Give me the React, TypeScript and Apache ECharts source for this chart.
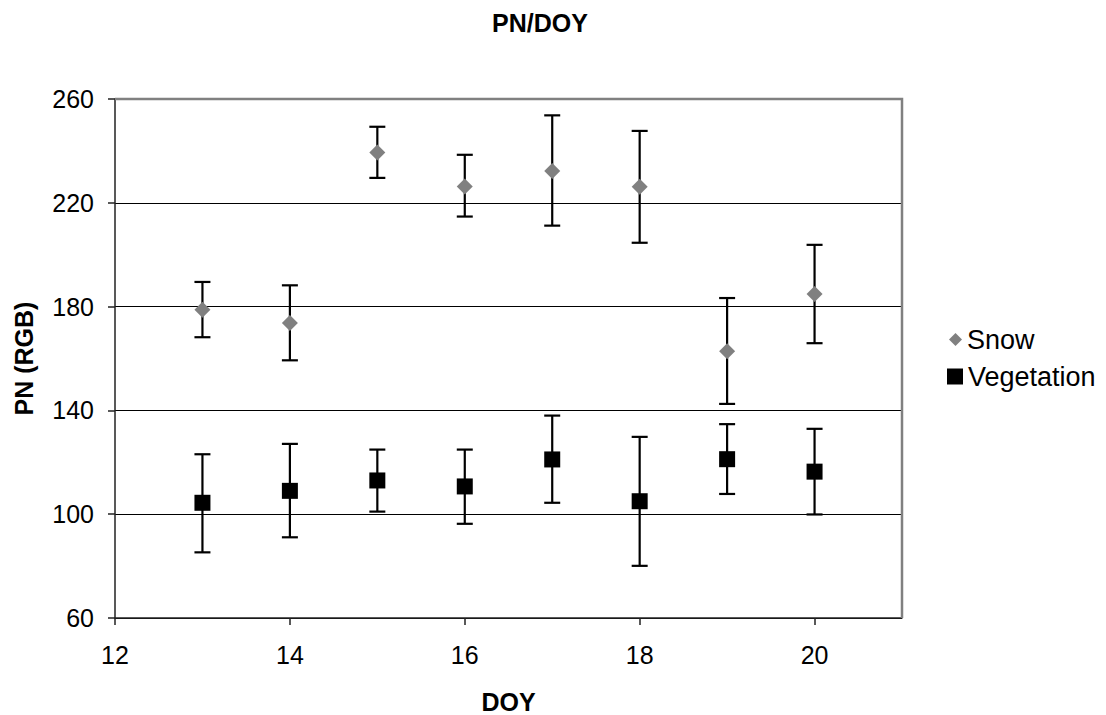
import React, { useEffect, useRef } from "react";
import * as echarts from "echarts";

// Day of year for each observation
const doy = [13, 14, 15, 16, 17, 18, 19, 20];

// Snow: mean PN with lower / upper error bounds
const snowMean = [178.8, 173.7, 239.4, 226.3, 232.3, 226.2, 162.8, 184.9];
const snowLow = [168.2, 159.3, 229.6, 214.7, 211.2, 204.6, 142.5, 165.9];
const snowHigh = [189.5, 188.2, 249.3, 238.5, 253.7, 247.7, 183.3, 203.8];

// Vegetation: mean PN with lower / upper error bounds
const vegMean = [104.4, 109.0, 113.0, 110.7, 121.1, 105.0, 121.2, 116.4];
const vegLow = [85.3, 91.1, 101.0, 96.3, 104.4, 80.1, 107.8, 99.9];
const vegHigh = [123.1, 127.1, 124.9, 124.9, 138.0, 129.8, 134.7, 132.9];

// Axis ticks
const xTicks = [12, 14, 16, 18, 20];
const yTicks = [60, 100, 140, 180, 220, 260];

const FONT = "'Liberation Sans', Arial, sans-serif";

const errorBarRenderer = (params: any, api: any) => {
  const x = api.value(0);
  const lo = api.value(1);
  const hi = api.value(2);
  const top = api.coord([x, hi]);
  const bot = api.coord([x, lo]);
  const half = 8;
  const style = { stroke: "#000", lineWidth: 2.2 };
  return {
    type: "group",
    children: [
      { type: "line", shape: { x1: top[0], y1: top[1], x2: bot[0], y2: bot[1] }, style },
      { type: "line", shape: { x1: top[0] - half, y1: top[1], x2: top[0] + half, y2: top[1] }, style },
      { type: "line", shape: { x1: bot[0] - half, y1: bot[1], x2: bot[0] + half, y2: bot[1] }, style },
    ],
  };
};

export default function App() {
  const ref = useRef<HTMLDivElement>(null);

  useEffect(() => {
    if (!ref.current) return;
    const chart = echarts.init(ref.current, null, { renderer: "svg" });

    const xMin = 12;
    const xMax = 21;
    const yMin = yTicks[0];
    const yMax = yTicks[yTicks.length - 1];

    chart.setOption({
      animation: false,
      backgroundColor: "#fff",
      textStyle: { fontFamily: FONT },
      title: {
        text: "PN/DOY",
        left: 540,
        top: 10,
        padding: 0,
        textAlign: "center",
        textStyle: { fontFamily: FONT, fontSize: 25, fontWeight: "bold", color: "#000" },
      },
      legend: [
        {
          data: [{ name: "Snow", icon: "diamond" }],
          orient: "vertical",
          left: 949,
          top: 326,
          padding: 0,
          itemWidth: 13,
          itemHeight: 13,
          textStyle: { fontFamily: FONT, fontSize: 27, color: "#000" },
        },
        {
          data: [{ name: "Vegetation", icon: "rect" }],
          orient: "vertical",
          left: 947,
          top: 363,
          padding: 0,
          itemWidth: 16,
          itemHeight: 16,
          textStyle: { fontFamily: FONT, fontSize: 27, color: "#000" },
        },
      ],
      grid: { left: 115, right: 204, top: 99, bottom: 97, outerBoundsMode: "none" },
      xAxis: {
        type: "value",
        min: xMin,
        max: xMax,
        interval: 2,
        name: "DOY",
        nameLocation: "middle",
        nameGap: 71,
        nameTextStyle: { fontFamily: FONT, fontSize: 25, fontWeight: "bold", color: "#000" },
        axisLine: { show: true, lineStyle: { color: "#222", width: 1.5 } },
        axisTick: { show: true, length: 7, customValues: xTicks, lineStyle: { color: "#222", width: 1.5 } },
        axisLabel: { customValues: xTicks, margin: 24, fontFamily: FONT, fontSize: 25, color: "#000" },
        splitLine: { show: false },
      },
      yAxis: {
        type: "value",
        min: yMin,
        max: yMax,
        interval: 40,
        name: "PN (RGB)",
        nameLocation: "middle",
        nameRotate: 90,
        nameGap: 79,
        nameTextStyle: { fontFamily: FONT, fontSize: 25, fontWeight: "bold", color: "#000" },
        axisLine: { show: true, lineStyle: { color: "#222", width: 1.5 } },
        axisTick: { show: true, length: 7, lineStyle: { color: "#222", width: 1.5 } },
        axisLabel: { margin: 21, fontFamily: FONT, fontSize: 25, color: "#000" },
        splitLine: { show: true, lineStyle: { color: "#000", width: 1 } },
      },
      series: [
        {
          name: "Snow error",
          type: "custom",
          renderItem: errorBarRenderer,
          encode: { x: 0, y: [1, 2] },
          data: doy.map((d, i) => [d, snowLow[i], snowHigh[i]]),
          z: 3,
        },
        {
          name: "Vegetation error",
          type: "custom",
          renderItem: errorBarRenderer,
          encode: { x: 0, y: [1, 2] },
          data: doy.map((d, i) => [d, vegLow[i], vegHigh[i]]),
          z: 3,
        },
        {
          name: "Snow",
          type: "scatter",
          symbol: "diamond",
          symbolSize: 16,
          itemStyle: { color: "#808080", opacity: 1 },
          data: doy.map((d, i) => [d, snowMean[i]]),
          z: 5,
        },
        {
          name: "Vegetation",
          type: "scatter",
          symbol: "rect",
          symbolSize: 16,
          itemStyle: { color: "#000", opacity: 1 },
          data: doy.map((d, i) => [d, vegMean[i]]),
          z: 5,
        },
      ],
    });

    // Gray frame on the top and right edges of the plot area
    const tl = chart.convertToPixel({ gridIndex: 0 }, [xMin, yMax]) as number[];
    const tr = chart.convertToPixel({ gridIndex: 0 }, [xMax, yMax]) as number[];
    const br = chart.convertToPixel({ gridIndex: 0 }, [xMax, yMin]) as number[];
    chart.setOption({
      graphic: [
        {
          type: "polyline",
          z: 100,
          shape: { points: [tl, tr, br] },
          style: { stroke: "#808080", lineWidth: 2.5, fill: null },
        },
      ],
    });

    return () => chart.dispose();
  }, []);

  return (
    <div
      ref={ref}
      style={{ position: "fixed", left: 0, top: 0, width: 1106, height: 715 }}
    />
  );
}
